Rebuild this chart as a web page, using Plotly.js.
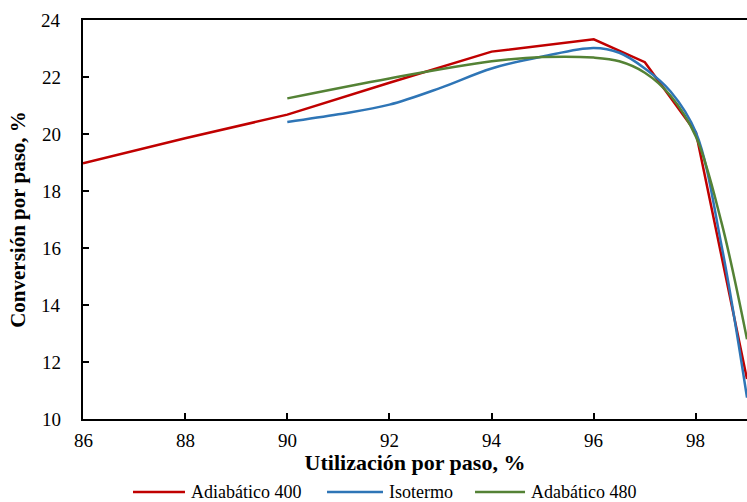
<!DOCTYPE html>
<html>
<head>
<meta charset="utf-8">
<script src="https://cdn.plot.ly/plotly-3.0.1.min.js"></script>
<style>
  html, body { margin: 0; padding: 0; background: #fff; }
  #chart { width: 747px; height: 502px; }
</style>
</head>
<body>
<div id="chart"></div>
<script>
// Utilización por paso (%) vs conversión por paso (%)
const adiabatico400X = [86, 88, 90, 92, 94, 96, 97, 98, 99];
const adiabatico400Y = [18.97, 19.85, 20.68, 21.8, 22.89, 23.32, 22.52, 20.05, 11.4];

const isotermoX = [90, 91, 92, 93, 94, 95, 96, 96.5, 97, 97.5, 98, 98.5, 99];
const isotermoY = [20.42, 20.69, 21.03, 21.62, 22.3, 22.72, 23.02, 22.85, 22.3, 21.5, 20.05, 16.1, 10.75];

const adabatico480X = [90, 92, 94, 95, 96, 96.5, 97, 97.5, 98, 98.5, 99];
const adabatico480Y = [21.25, 21.95, 22.55, 22.7, 22.68, 22.55, 22.15, 21.35, 19.9, 16.9, 12.8];

const seriesNames = ['Adiabático 400', 'Isotermo', 'Adabático 480'];
const seriesColors = ['#C00000', '#2E75B6', '#548235'];

const xTicks = [86, 88, 90, 92, 94, 96, 98];
const yTicks = [10, 12, 14, 16, 18, 20, 22, 24];

const serif = 'Liberation Serif';

const traces = [
  {
    x: adiabatico400X, y: adiabatico400Y, name: seriesNames[0],
    type: 'scatter', mode: 'lines',
    line: { color: seriesColors[0], width: 2.5 }
  },
  {
    x: isotermoX, y: isotermoY, name: seriesNames[1],
    type: 'scatter', mode: 'lines',
    line: { color: seriesColors[1], width: 2.5, shape: 'spline', smoothing: 1 }
  },
  {
    x: adabatico480X, y: adabatico480Y, name: seriesNames[2],
    type: 'scatter', mode: 'lines',
    line: { color: seriesColors[2], width: 2.5, shape: 'spline', smoothing: 1 }
  }
];

// Tick labels set as serif text on the axis scales
const tickFont = { family: serif, size: 19, color: '#000' };
const annotations = [];
xTicks.forEach(v => annotations.push({
  xref: 'x', x: v, yref: 'paper', y: -0.055, xanchor: 'center', yanchor: 'middle',
  showarrow: false, text: String(v), font: tickFont
}));
yTicks.forEach(v => annotations.push({
  xref: 'paper', x: -0.03, yref: 'y', y: v, xanchor: 'right', yanchor: 'middle',
  showarrow: false, text: String(v), font: tickFont
}));

// Legend row below the x-axis title: line sample + series name
const legendY = -0.183;
const legendSlots = [[0.0753, 0.1536], [0.3675, 0.4518], [0.5904, 0.6657]];
const shapes = [];
seriesNames.forEach((name, i) => {
  const [x0, x1] = legendSlots[i];
  shapes.push({
    type: 'line', xref: 'paper', yref: 'paper', x0: x0, x1: x1, y0: legendY, y1: legendY,
    line: { color: seriesColors[i], width: 2.5 }
  });
  annotations.push({
    xref: 'paper', x: x1 + 0.006, yref: 'paper', y: legendY, xanchor: 'left', yanchor: 'middle',
    showarrow: false, text: name, font: { family: serif, size: 18, color: '#000' }
  });
});

const layout = {
  width: 747, height: 502,
  margin: { l: 83, r: 0, t: 20, b: 83, autoexpand: false },
  showlegend: false,
  annotations: annotations,
  shapes: shapes,
  xaxis: {
    range: [86, 99], tickvals: xTicks, showticklabels: false,
    ticks: 'inside', ticklen: 6, tickwidth: 2, tickcolor: '#000',
    showline: true, linecolor: '#000', linewidth: 2, mirror: true,
    showgrid: false, zeroline: false, automargin: false,
    title: { text: 'Utilización por paso, %', font: { family: serif, size: 22, weight: 'bold', color: '#000' }, standoff: 35 }
  },
  yaxis: {
    range: [10, 24], tickvals: yTicks, showticklabels: false,
    ticks: 'inside', ticklen: 6, tickwidth: 2, tickcolor: '#000',
    showline: true, linecolor: '#000', linewidth: 2,
    showgrid: false, zeroline: false, automargin: false,
    title: { text: 'Conversión por paso, %', font: { family: serif, size: 21, weight: 'bold', color: '#000' }, standoff: 50 }
  }
};

Plotly.newPlot('chart', traces, layout, { staticPlot: true });
</script>
</body>
</html>
